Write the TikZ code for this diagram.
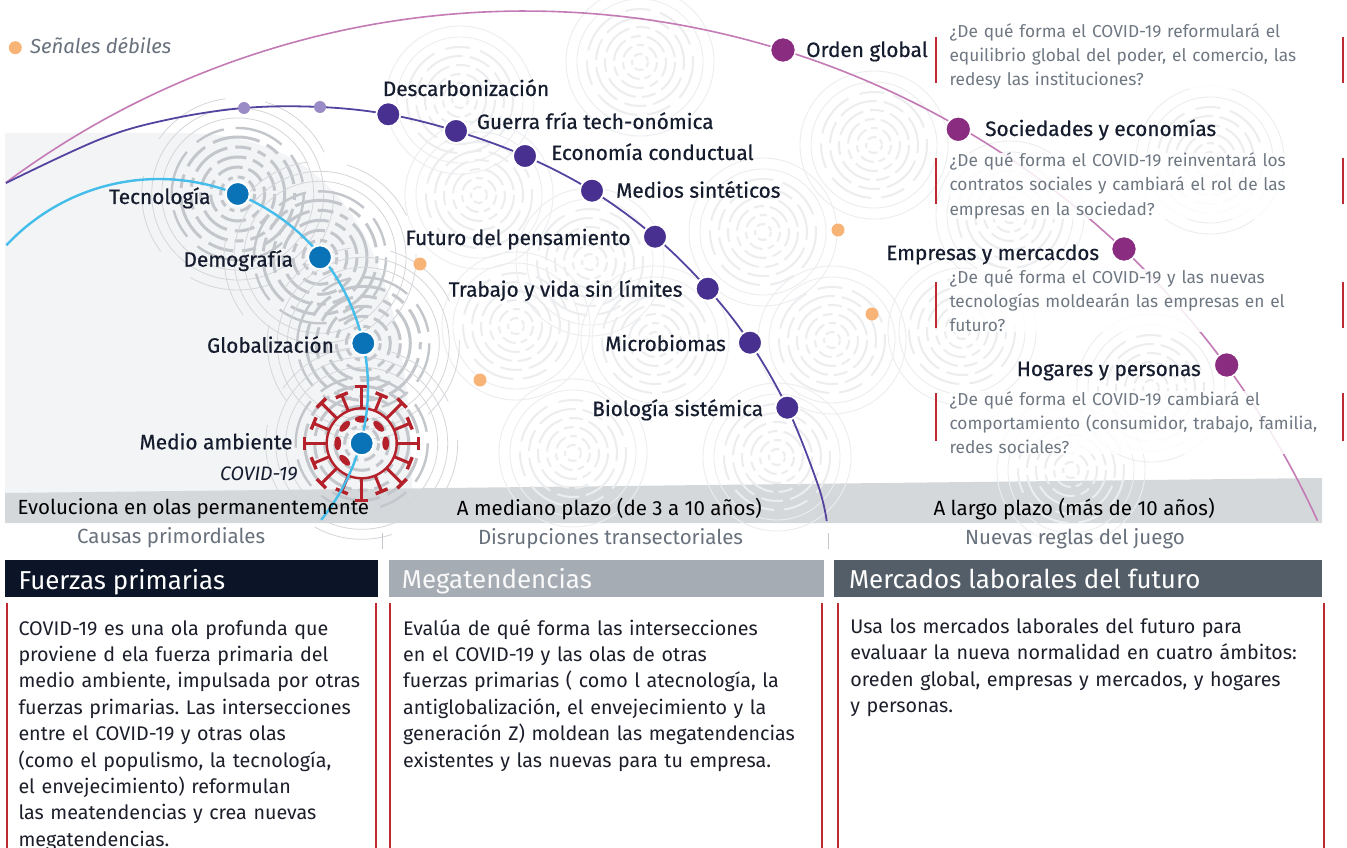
\documentclass[tikz,border=0pt]{standalone}
\usepackage{fontspec}
\setmainfont{Fira Sans}
\newfontfamily\labfont[FakeBold=0.6]{Fira Sans}
\usetikzlibrary{calc}
\frenchspacing
\definecolor{pinkc}{HTML}{C47BB5}
\definecolor{purc}{HTML}{5543A0}
\definecolor{bluec}{HTML}{45BDEB}
\definecolor{bdot}{HTML}{0A72B6}
\definecolor{pdot}{HTML}{47308F}
\definecolor{lpdot}{HTML}{9A8BC6}
\definecolor{mdot}{HTML}{8A2C80}
\definecolor{orc}{HTML}{F8B477}
\definecolor{labc}{HTML}{151C2E}
\definecolor{qgray}{HTML}{6F7882}
\definecolor{redc}{HTML}{BE2A31}
\definecolor{bandc}{HTML}{D5D8DB}
\definecolor{hA}{HTML}{0C1527}
\definecolor{hB}{HTML}{A6ACB3}
\definecolor{hC}{HTML}{545E69}
\definecolor{ringS}{HTML}{C3C6CA}
\definecolor{ringT}{HTML}{D4D6D9}
\definecolor{ringF}{HTML}{ECEDEF}
\definecolor{bgl}{HTML}{F3F4F6}
\definecolor{virc}{HTML}{B5212B}
\definecolor{bodyc}{HTML}{1C1F2A}
\definecolor{subc}{HTML}{68717C}
\tikzset{
  rs/.style={draw=ringS, line width=3pt},
  rt/.style={draw=ringT, line width=0.8pt},
  rf/.style={draw=ringF, line width=2pt},
  rff/.style={draw=ringF, line width=0.9pt},
  lbl/.style={font=\labfont\fontsize{20.8}{24}\selectfont, text=labc, inner sep=0pt},
  qtext/.style={font=\fontsize{17.3}{24.2}\selectfont, text=qgray, inner sep=0pt,
     text width=385pt, align=left, anchor=base west, fill=white, fill opacity=0.85, text opacity=1},
  bandtext/.style={font=\fontsize{20.5}{23}\selectfont, text=black, inner sep=0pt},
  subtext/.style={font=\fontsize{20.5}{23}\selectfont, text=subc, inner sep=0pt},
  hdrtext/.style={font=\fontsize{25.9}{29}\selectfont, inner sep=0pt, anchor=base west},
  bodytext/.style={font=\fontsize{19.7}{26.4}\selectfont, text=bodyc, inner sep=0pt,
     align=left, anchor=base west},
  bluedot/.style={circle, fill=bdot, draw=white, line width=2pt, minimum size=24pt, inner sep=0pt},
  purdot/.style={circle, fill=pdot, draw=white, line width=1.8pt, minimum size=24pt, inner sep=0pt},
  lpurdot/.style={circle, fill=lpdot, minimum size=12pt, inner sep=0pt},
  magdot/.style={circle, fill=mdot, draw=white, line width=1.5pt, minimum size=25pt, inner sep=0pt},
  ordot/.style={circle, fill=orc, minimum size=13pt, inner sep=0pt},
  redl/.style={draw=redc, line width=2.6pt},
  redq/.style={draw=redc, line width=2.2pt},
  vir/.style={draw=virc}
}
\newcommand{\rippleS}[2]{%
\begin{scope}[shift={(#1,#2)}]
\draw[rs, dash pattern=on 7pt off 5pt on 12pt off 6pt on 5pt off 5pt] (0,0) circle[radius=17];
\draw[rs, dash pattern=on 18pt off 6pt on 9pt off 7pt on 26pt off 6pt, dash phase=6pt] (0,0) circle[radius=27];
\draw[rs, dash pattern=on 30pt off 7pt on 12pt off 7pt on 20pt off 8pt, dash phase=15pt] (0,0) circle[radius=37];
\draw[rs, dash pattern=on 40pt off 8pt on 16pt off 7pt on 9pt off 7pt, dash phase=3pt] (0,0) circle[radius=47];
\draw[rs, dash pattern=on 26pt off 9pt on 48pt off 8pt on 14pt off 9pt, dash phase=20pt] (0,0) circle[radius=57];
\draw[rs, line width=2.4pt, dash pattern=on 50pt off 14pt on 30pt off 12pt, dash phase=9pt] (0,0) circle[radius=66];
\draw[rt] (0,0) circle[radius=76];
\draw[rt] (0,0) circle[radius=86];
\draw[rt, dash pattern=on 80pt off 40pt] (0,0) circle[radius=96];
\end{scope}}
\newcommand{\rippleF}[2]{%
\begin{scope}[shift={(#1,#2)}]
\draw[rf, dash pattern=on 5pt off 4pt on 9pt off 4pt] (0,0) circle[radius=8];
\draw[rf, dash pattern=on 14pt off 5pt on 7pt off 5pt, dash phase=4pt] (0,0) circle[radius=17];
\draw[rf, dash pattern=on 24pt off 6pt on 10pt off 6pt, dash phase=9pt] (0,0) circle[radius=26];
\draw[rf, dash pattern=on 34pt off 7pt on 14pt off 6pt, dash phase=2pt] (0,0) circle[radius=35];
\draw[rf, dash pattern=on 22pt off 8pt on 40pt off 7pt, dash phase=14pt] (0,0) circle[radius=44];
\draw[rf, dash pattern=on 45pt off 12pt on 25pt off 10pt, dash phase=6pt] (0,0) circle[radius=53];
\draw[rff] (0,0) circle[radius=63];
\draw[rff] (0,0) circle[radius=74];
\end{scope}}
\begin{document}
\begin{tikzpicture}[x=1pt,y=-1pt]
\useasboundingbox (0,0) rectangle (1347,848);
\fill[white] (0,0) rectangle (1347,848);
% light background region
\fill[bgl] (5,133) -- (180,133) .. controls (330,133) and (410,230) .. (412,493) -- (5,493) -- cycle;
% band
\fill[bandc] (5,493) -- (1322,478) -- (1322,523) -- (5,523) -- cycle;
% faint ripples
\rippleF{460}{100}
\rippleF{640}{62}
\rippleF{479}{195}
\rippleF{763}{232}
\rippleF{874}{145}
\rippleF{590}{262}
\rippleF{516}{326}
\rippleF{655}{340}
\rippleF{832}{340}
\rippleF{573}{453}
\rippleF{777}{457}
\rippleF{962}{331}
\rippleF{1071}{470}
\rippleF{1151}{388}
\rippleF{1210}{160}
\rippleF{1010}{215}
% strong ripples
\rippleS{237.7}{194}
\rippleS{320}{257.3}
\rippleS{363.3}{343.3}
\rippleS{361.7}{443.3}
% virus
\begin{scope}[shift={(361.7,443.3)}]
\draw[vir, line width=2.4pt] (0,0) circle[radius=35];
\foreach \a in {0,45,...,315}{
  \draw[vir, line width=3pt] (\a:35) -- (\a:57);
  \draw[vir, line width=3.4pt] (\a:57) ++(\a+90:6.5) -- ++(\a-90:13);
}
\foreach \a in {22.5,67.5,...,337.5}{
  \draw[vir, line width=3pt] (\a:35) -- (\a:52);
  \draw[vir, line width=3.4pt] (\a:52) ++(\a+90:6.5) -- ++(\a-90:13);
}
\foreach \a in {0,45,90,135,180,225}{
  \fill[virc, rotate=\a] (24,0) ellipse[x radius=3.4, y radius=6.8];
}
\end{scope}
% curves
\draw[pinkc, line width=1.6pt] plot[domain=233.4:335.5, samples=150] ({525+871*cos(\x)},{882+871*sin(\x)});
\draw[purc, line width=1.8pt] plot[smooth, tension=0.6] coordinates {(6,183) (100,139.3) (167,119.8) (244,108) (320,107) (388.3,114.3) (456,131) (525,156) (592,190.7) (655,236.7) (707.7,288.7) (750,342.7) (787.3,407.7) (818,485) (826.7,521)};
\draw[bluec, line width=2.4pt] plot[domain=223.1:399.1, samples=120] ({159+209*cos(\x)},{388+209*sin(\x)});
% separators
\draw[ringS, line width=1pt] (382,533) -- (382,549);
\draw[ringS, line width=1pt] (828,533) -- (828,549);
% dots
\node[bluedot] (tec) at (237.7,194) {};
\node[bluedot] (dem) at (320,257.3) {};
\node[bluedot] (glo) at (363.3,343.3) {};
\node[bluedot] (med) at (361.7,443.3) {};
\node[lpurdot] (s1) at (244,108) {};
\node[lpurdot] (s2) at (320,107) {};
\node[purdot] (des) at (388.3,114.3) {};
\node[purdot] (gue) at (456,131) {};
\node[purdot] (eco) at (525,156) {};
\node[purdot] (mes) at (592,190.7) {};
\node[purdot] (fut) at (655,236.7) {};
\node[purdot] (tra) at (707.7,288.7) {};
\node[purdot] (mic) at (750,342.7) {};
\node[purdot] (bio) at (787.3,407.7) {};
\node[magdot] (ord) at (783,50) {};
\node[magdot] (soc) at (958.3,129.3) {};
\node[magdot] (emp) at (1124,249) {};
\node[magdot] (hog) at (1226.7,365) {};
\node[ordot] (leg) at (15.3,47.7) {};
\node[ordot] (o1) at (420,264) {};
\node[ordot] (o2) at (480,380) {};
\node[ordot] (o3) at (838,230) {};
\node[ordot] (o4) at (872,314) {};
% legend
\node[font=\fontsize{20.3}{23}\selectfont\itshape, text=subc, inner sep=0pt, anchor=base west] (legt) at (30,53.3) {Señales débiles};
% labels blue
\node[lbl, anchor=base east] (ltec) at (210.7,204) {Tecnología};
\node[lbl, anchor=base east] (ldem) at (293.3,266.7) {Demografía};
\node[lbl, anchor=base east] (lglo) at (334,352.7) {Globalización};
\node[lbl, anchor=base east] (lmed) at (292.7,449.3) {Medio ambiente};
\node[font=\fontsize{19.5}{22}\selectfont\itshape, text=labc, inner sep=0pt, anchor=base east] (lcov) at (297.7,480) {COVID-19};
% labels purple
\node[lbl, anchor=base west] (ldes) at (382.7,96) {Descarbonización};
\node[lbl, anchor=base west] (lgue) at (476.7,129) {Guerra fría tech-onómica};
\node[lbl, anchor=base west] (leco) at (551,160) {Economía conductual};
\node[lbl, anchor=base west] (lmes) at (616,197.7) {Medios sintéticos};
\node[lbl, anchor=base east] (lfut) at (630.7,245) {Futuro del pensamiento};
\node[lbl, anchor=base east] (ltra) at (682.7,296.7) {Trabajo y vida sin límites};
\node[lbl, anchor=base east] (lmic) at (726,351) {Microbiomas};
\node[lbl, anchor=base east] (lbio) at (763.3,416) {Biología sistémica};
% labels magenta
\node[lbl, anchor=base west] (lord) at (806,57) {Orden global};
\node[lbl, anchor=base west] (lsoc) at (985,136) {Sociedades y economías};
\node[lbl, anchor=base east] (lemp) at (1099.3,260) {Empresas y mercacdos};
\node[lbl, anchor=base east] (lhog) at (1201,376) {Hogares y personas};
% questions
\node[qtext] (q1) at (949.3,37.3) {¿De qué forma el COVID-19 reformulará el\\ equilibrio global del poder, el comercio, las\\ redesy las instituciones?};
\node[qtext] (q2) at (949.3,166.7) {¿De qué forma el COVID-19 reinventará los\\ contratos sociales y cambiará el rol de las\\ empresas en la sociedad?};
\node[qtext] (q3) at (949.3,283.3) {¿De qué forma el COVID-19 y las nuevas\\ tecnologías moldearán las empresas en el\\ futuro?};
\node[qtext] (q4) at (949.3,405) {¿De qué forma el COVID-19 cambiará el\\ comportamiento (consumidor, trabajo, familia,\\ redes sociales?};
\draw[redq] (936,37) -- (936,83);
\draw[redq] (1343,37) -- (1343,83);
\draw[redq] (936,158) -- (936,204);
\draw[redq] (1343,158) -- (1343,204);
\draw[redq] (936,282) -- (936,328);
\draw[redq] (1343,282) -- (1343,328);
\draw[redq] (936,393) -- (936,441);
\draw[redq] (1343,393) -- (1343,441);
% band texts
\node[bandtext, anchor=base west] (b1) at (17.3,514.3) {Evoluciona en olas permanentemente};
\node[bandtext, anchor=base west] (b2) at (456.7,515) {A mediano plazo (de 3 a 10 años)};
\node[bandtext, anchor=base west] (b3) at (933.3,515) {A largo plazo (más de 10 años)};
\node[subtext, anchor=base] (c1) at (171.2,543.3) {Causas primordiales};
\node[subtext, anchor=base] (c2) at (610.5,544) {Disrupciones transectoriales};
\node[subtext, anchor=base] (c3) at (1075,544) {Nuevas reglas del juego};
% headers
\fill[hA] (5,560) rectangle (378,597);
\fill[hB] (389,560) rectangle (824,597);
\fill[hC] (834,560) rectangle (1322,597);
\node[hdrtext, text=white] (h1) at (18.3,589.3) {Fuerzas primarias};
\node[hdrtext, text=white!93!hB] (h2) at (401.7,588.3) {Megatendencias};
\node[hdrtext, text=white] (h3) at (848.8,588.3) {Mercados laborales del futuro};
% panel red lines
\draw[redl] (7,603) -- (7,848);
\draw[redl] (376,603) -- (376,848);
\draw[redl] (390,603) -- (390,848);
\draw[redl] (822,603) -- (822,848);
\draw[redl] (838,603) -- (838,848);
\draw[redl] (1324,603) -- (1324,848);
% panel texts
\node[bodytext, text width=355pt] (p1) at (18.3,635) {COVID-19 es una ola profunda que\\ proviene d ela fuerza primaria del\\ medio ambiente, impulsada por otras\\ fuerzas primarias. Las intersecciones\\ entre el COVID-19 y otras olas\\ (como el populismo, la tecnología,\\ el envejecimiento) reformulan\\ las meatendencias y crea nuevas\\ megatendencias.};
\node[bodytext, text width=415pt] (p2) at (403,635) {Evalúa de qué forma las intersecciones\\ en el COVID-19 y las olas de otras\\ fuerzas primarias ( como l atecnología, la\\ antiglobalización, el envejecimiento y la\\ generación Z) moldean las megatendencias\\ existentes y las nuevas para tu empresa.};
\node[bodytext, text width=470pt] (p3) at (850.2,633.3) {Usa los mercados laborales del futuro para\\ evaluaar la nueva normalidad en cuatro ámbitos:\\ oreden global, empresas y mercados, y hogares\\ y personas.};
\end{tikzpicture}
\end{document}
